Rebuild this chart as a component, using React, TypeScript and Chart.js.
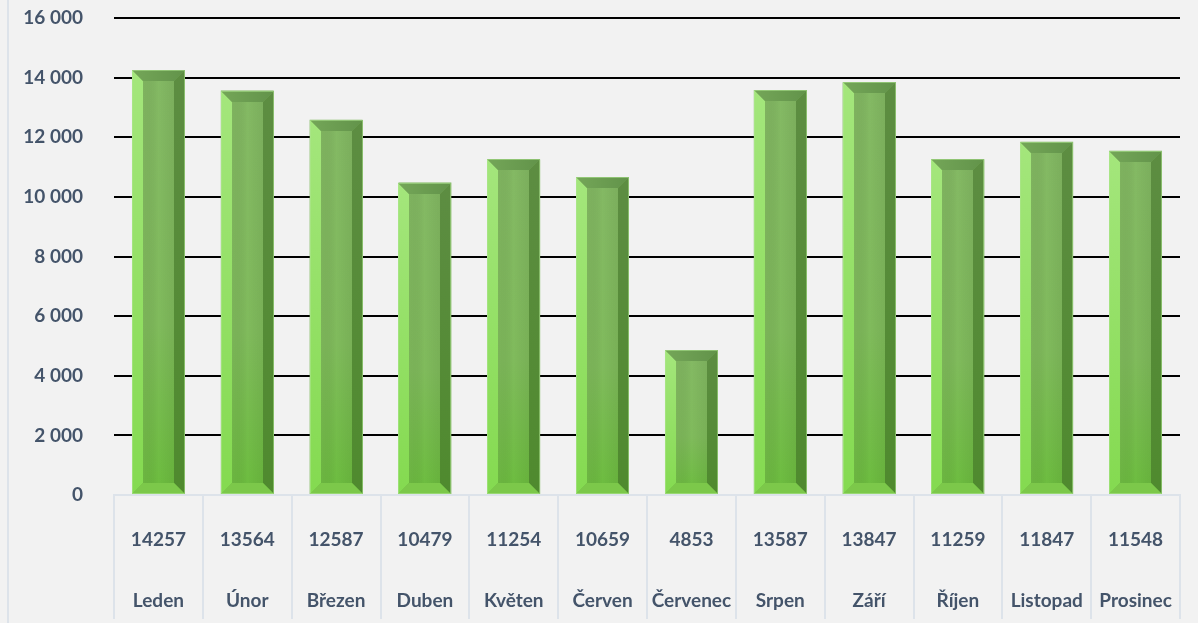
import React, { useEffect, useRef } from "react";
import { Chart, registerables } from "chart.js";

Chart.register(...registerables);

const months = ["Leden", "Únor", "Březen", "Duben", "Květen", "Červen", "Červenec", "Srpen", "Září", "Říjen", "Listopad", "Prosinec"];
const values = [14257, 13564, 12587, 10479, 11254, 10659, 4853, 13587, 13847, 11259, 11847, 11548];
const yMax = 16000;
const yStep = 2000;

const TEXT_COLOR = "#44546a";
const FONT = "Lato, 'Open Sans', sans-serif";

const fmt = (v: number) => String(v).replace(/\B(?=(\d{3})+(?!\d))/g, " ");

const bevelPlugin = {
  id: "bevel",
  afterDatasetsDraw(chart: any) {
    const ctx = chart.ctx;
    const meta = chart.getDatasetMeta(0);
    meta.data.forEach((bar: any) => {
      const { x, y, base, width } = bar.getProps(["x", "y", "base", "width"], true);
      const l = Math.round(x - width / 2);
      const r = Math.round(x + width / 2);
      const t = Math.round(y);
      const b = Math.round(base);
      const bv = Math.min(11, (b - t) / 2);
      ctx.save();
      // face: vertical gradient
      const fv = ctx.createLinearGradient(0, t, 0, b);
      fv.addColorStop(0, "#84b964");
      fv.addColorStop(0.6, "#80bb5c");
      fv.addColorStop(1, "#6cbd3e");
      ctx.fillStyle = fv;
      ctx.fillRect(l, t, r - l, b - t);
      const fh = ctx.createLinearGradient(l, 0, r, 0);
      fh.addColorStop(0, "rgba(170,240,120,0.25)");
      fh.addColorStop(0.5, "rgba(0,0,0,0)");
      fh.addColorStop(1, "rgba(30,60,10,0.12)");
      ctx.fillStyle = fh;
      ctx.fillRect(l, t, r - l, b - t);
      const poly = (pts: number[][], fill: any) => {
        ctx.beginPath();
        ctx.moveTo(pts[0][0], pts[0][1]);
        for (let i = 1; i < pts.length; i++) ctx.lineTo(pts[i][0], pts[i][1]);
        ctx.closePath();
        ctx.fillStyle = fill;
        ctx.fill();
      };
      const lg = ctx.createLinearGradient(0, t, 0, b);
      lg.addColorStop(0, "#a4e67c");
      lg.addColorStop(1, "#84da50");
      poly([[l, t], [l + bv, t + bv], [l + bv, b - bv], [l, b]], lg);
      const tg = ctx.createLinearGradient(l, 0, r, 0);
      tg.addColorStop(0, "#74a658");
      tg.addColorStop(1, "#62934a");
      poly([[l, t], [r, t], [r - bv, t + bv], [l + bv, t + bv]], tg);
      const rg = ctx.createLinearGradient(0, t, 0, b);
      rg.addColorStop(0, "#5d8d42");
      rg.addColorStop(1, "#4f8a2e");
      poly([[r, t], [r, b], [r - bv, b - bv], [r - bv, t + bv]], rg);
      poly([[l, b], [r, b], [r - bv, b - bv], [l + bv, b - bv]], "#7cc84a");
      ctx.strokeStyle = "rgba(175,230,145,0.55)";
      ctx.lineWidth = 1;
      ctx.strokeRect(l + 0.5, t + 0.5, r - l - 1, b - t - 1);
      ctx.restore();
    });
  },
};

const tablePlugin = {
  id: "dataTable",
  afterDraw(chart: any) {
    const ctx = chart.ctx;
    const xs = chart.scales.x;
    const bottom = chart.chartArea.bottom;
    ctx.save();
    ctx.fillStyle = TEXT_COLOR;
    ctx.font = `bold 19px ${FONT}`;
    ctx.textAlign = "center";
    ctx.textBaseline = "middle";
    months.forEach((m, i) => {
      const px = xs.getPixelForValue(i);
      ctx.fillText(String(values[i]), px, bottom + 45);
      ctx.fillText(m, px, bottom + 106);
    });
    ctx.restore();
  },
};

export default function App() {
  const ref = useRef<HTMLCanvasElement | null>(null);
  useEffect(() => {
    if (!ref.current) return;
    const chart = new Chart(ref.current, {
      type: "bar",
      data: {
        labels: months,
        datasets: [
          {
            data: values,
            backgroundColor: "#7cb85a",
            borderWidth: 0,
            barPercentage: 0.595,
            categoryPercentage: 1,
          },
        ],
      },
      options: {
        responsive: false,
        devicePixelRatio: 1,
        animation: false,
        layout: { padding: { left: 0, right: 18, top: 18, bottom: 4 } },
        plugins: { legend: { display: false }, tooltip: { enabled: false } },
        scales: {
          x: {
            offset: true,
            grid: {
              offset: true,
              drawOnChartArea: false,
              drawTicks: true,
              tickLength: 124,
              color: "#dde3ea",
              lineWidth: 2,
            },
            border: { display: true, color: "#dde3ea", width: 2 },
            ticks: { display: false },
          },
          y: {
            min: 0,
            max: yMax,
            ticks: {
              stepSize: yStep,
              padding: 31,
              color: TEXT_COLOR,
              font: { family: FONT, size: 19, weight: "bold" },
              callback: (v: any) => fmt(Number(v)),
            },
            grid: {
              drawTicks: false,
              lineWidth: 2,
              color: (c: any) => (c.tick && c.tick.value === 0 ? "rgba(0,0,0,0)" : "#000000"),
            },
            border: { display: false },
            afterFit: (s: any) => {
              s.width = 105;
              s.paddingTop = 0;
              s.paddingBottom = 0;
            },
          },
        },
      },
      plugins: [bevelPlugin, tablePlugin],
    });
    return () => chart.destroy();
  }, []);
  return (
    <div style={{ position: "fixed", left: 0, top: 0, width: 1198, height: 623, background: "#f2f2f2", overflow: "hidden" }}>
      <div style={{ position: "absolute", left: 7, top: 0, width: 2, height: 623, background: "#dde3ea" }} />
      <canvas ref={ref} width={1189} height={623} style={{ position: "absolute", left: 9, top: 0, width: 1189, height: 623 }} />
    </div>
  );
}
